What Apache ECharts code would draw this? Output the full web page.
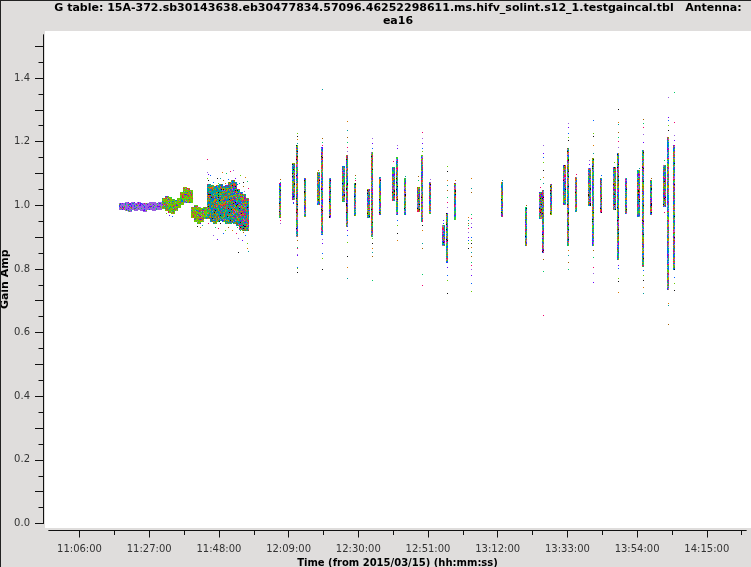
<!DOCTYPE html>
<html><head><meta charset="utf-8">
<script src="https://cdn.jsdelivr.net/npm/echarts@6/dist/echarts.min.js"></script>
<style>
html,body{margin:0;padding:0;background:#dfdddc;overflow:hidden}
#c{position:absolute;left:0;top:0;width:751px;height:567px}
#f{position:absolute;left:0;top:0;width:750px;height:566px;border-top:1px solid #222;border-left:1px solid #222;pointer-events:none}
</style></head><body><div id="c"></div><div id="f"></div>
<script>
// time axis is in minutes after midnight
const titleText = "G table: 15A-372.sb30143638.eb30477834.57096.46252298611.ms.hifv_solint.s12_1.testgaincal.tbl   Antenna:\nea16";
const xName = "Time (from 2015/03/15) (hh:mm:ss)";
const yName = "Gain Amp";
const xTickLabels = ["11:06:00","11:27:00","11:48:00","12:09:00","12:30:00","12:51:00","13:12:00","13:33:00","13:54:00","14:15:00"];
const xLongTicks = [666,687,708,729,750,771,792,813,834,855];
const xShortTicks = [676.5,697.5,718.5,739.5,760.5,781.5,802.5,823.5,844.5,865.5];
const yLabelTicks = [0,0.2,0.4,0.6,0.8,1.0,1.2,1.4];
const yLongTicks = [0,0.1,0.2,0.3,0.4,0.5,0.6,0.7,0.8,0.9,1.0,1.1,1.2,1.3,1.4,1.5];
const yShortTicks = [0.05,0.15,0.25,0.35,0.45,0.55,0.65,0.75,0.85,0.95,1.05,1.15,1.25,1.35,1.45];

// dense opening scans, column by column
const blockATime = [678.5,679.4,680.3,681.2,682.1,683.0,683.9,684.8,685.7,686.6,687.5,688.4,689.4,690.3,691.2];
const blockAHigh = [1.007,1.007,1.010,1.007,1.010,1.007,1.010,1.007,1.007,1.007,1.010,1.010,1.007,1.010,1.010];
const blockALow  = [.985,.985,.982,.979,.985,.982,.985,.982,.979,.985,.985,.982,.985,.985,.988];
const blockBTime = [691.5,692.4,693.3,694.2,695.1,696.0,696.9,697.8,698.7,699.6];
const blockBHigh = [1.023,1.029,1.026,1.020,1.017,1.023,1.042,1.057,1.054,1.048];
const blockBLow  = [.988,.982,.976,.973,.982,.992,1.001,1.007,1.007,1.007];
const blockCTime = [700.2,701.1,702.0,702.9,703.8];
const blockCHigh = [.995,1.001,.995,.992,.995];
const blockCLow  = [.960,.948,.941,.948,.957];
const blockDTime = [704.9,705.8,706.7,707.6,708.5,709.4,710.3,711.2,712.1];
const blockDHigh = [1.067,1.064,1.061,1.064,1.067,1.061,1.064,1.073,1.080];
const blockDLow  = [.957,.947,.941,.947,.950,.947,.941,.941,.944];
const blockETime = [713.0,713.9,714.8,715.7,716.4];
const blockEHigh = [1.073,1.051,1.042,1.036,1.023];
const blockELow  = [.941,.935,.922,.919,.919];
const blockStray = [[704.52,1.144],[704.52,1.106],[704.82,1.097],[705.32,1.095],[704.52,1.087],[704.82,1.079],[708.84,1.106],[708.34,1.087],[709.14,1.079],[710.14,1.100],[711.35,1.108],[712.35,1.111],[712.85,1.087],[710.85,1.083],[714.36,1.095],[715.37,1.074],[715.87,1.090],[714.16,1.069],[715.17,1.059],[716.37,1.076],[716.87,1.055],[715.57,1.045],[713.36,1.066],[706.33,1.074],[707.83,1.069],[707.33,1.085],[709.84,1.069],[705.32,.959],[705.82,.949],[706.83,.933],[707.83,.928],[706.33,.907],[707.33,.894],[709.34,.912],[709.84,.922],[708.34,.943],[711.85,.922],[712.35,.943],[710.85,.933],[713.36,.933],[713.16,.912],[713.86,.896],[714.86,.891],[715.87,.907],[716.57,.881],[713.86,.852],[716.37,.865],[716.87,.857],[715.17,.917],[714.36,.922],[704.82,.943],[704.32,.975],[693.1,.970],[694.0,.967],[692.2,.977],[701.5,.936],[702.4,.933],[703.0,.938]];

// later scans: one narrow strip per time
const stripTime = [726.41,730.42,731.44,733.85,737.95,739.06,741.47,745.39,746.51,748.92,753.01,754.04,756.54,760.55,761.57,764.07,768.08,769.19,771.60,775.61,776.64,779.14,793.21,800.53,804.75,805.74,808.06,812.07,813.09,815.59,819.60,820.72,823.13,827.13,828.25,830.66,834.57,835.69,838.10,842.20,843.31,845.21];
const stripHigh = [1.069,1.132,1.190,1.085,1.103,1.184,1.085,1.123,1.158,1.069,1.050,1.168,1.088,1.119,1.151,1.085,1.056,1.158,1.074,.938,.975,1.069,1.074,.994,1.043,1.048,1.067,1.127,1.179,1.088,1.116,1.148,1.085,1.121,1.163,1.085,1.111,1.174,1.079,1.127,1.216,1.189];
const stripLow  = [.959,1.017,.901,.964,.998,.907,.959,1.011,.933,.964,.959,.901,.970,1.011,.970,.970,.977,.949,.975,.873,.818,.954,.964,.870,.959,.849,.969,1.001,.870,.977,.996,.870,.975,.985,.828,.973,.964,.807,.970,.996,.734,.797];
const stripTips = [
 [1.082,1.074,.954,.943],[1.011,1.006],[1.226,1.218,1.207,1.197,.891,.870,.867,.847,.844,.807,.802,.791],[],
 [1.111],[1.365,1.210,1.200,1.190,.893,.880,.849,.833,.799],[],[],
 [1.264,1.235,1.216,1.200,1.184,1.172,.922,.907,.886,.842,.807,.770],[1.095,1.087,1.080],[],[1.210,1.195,1.179,.896,.880,.867,.854,.841,.764],
 [],[1.139],[1.188,1.179,.954,.938,.912,.891],[1.093],[1.092,1.080],[1.231,1.210,1.195,1.179,1.169,.938,.922,.880,.865,.783,.749],
 [1.083],[.953,.945],[1.123,1.109,1.079,1.064,1.048,1.027,1.011,.996,.807,.781,.765,.723],[1.080],
 [1.079],[1.001],[1.082,1.056],[1.189,1.163,1.153,1.137,1.111,1.090,1.069,.830,.793,.654],[],[],
 [1.258,1.245,1.226,1.214,1.205,.859,.844,.823,.799],[1.097],[1.142,1.130],[1.268,1.226,1.218,1.189,1.163,.859,.838,.807,.786,.758],[1.095],[1.137],
 [1.301,1.263,1.254,1.231,1.216,1.203,1.182,.812,.802,.772,.762,.728],[],[1.116],[1.270,1.260,1.247,1.224,1.200,.797,.781,.765,.744,.723],[1.085],[1.142,.980],
 [1.339,1.278,1.268,1.252,1.237,.694,.687,.626],[1.357,1.261,1.221,1.205,.776,.755,.734]];
// two sparse scans with no solid core
const sparseTimeA = 782.96;
const sparseValuesA = [.962,.954,.945,.937,.928,.917,.901,.891,.880,.867];
const sparseTimeB = 784.05;
const sparseValuesB = [1.085,1.053,1.043,.972,.959,.945,.933,.901,.891,.880,.870,.854,.839,.823,.812,.799,.780,.755,.731];

const palette = ["#9a60e0","#66cc00","#009c9c","#f00070","#0060ff","#d87800","#00cc66","#6a00ff","#111111","#a06000"];

// speckle textures (styling only)
function tile(weights){
  const w=61,h=53,c=document.createElement('canvas');c.width=w;c.height=h;
  const g=c.getContext('2d');const bag=[];
  weights.forEach((n,i)=>{for(let k=0;k<n;k++)bag.push(palette[i]);});
  let s=12345;
  for(let y=0;y<h;y++)for(let x=0;x<w;x++){
    s=(s*1103515245+12345)&0x7fffffff;
    g.fillStyle=bag[(s>>>9)%bag.length];g.fillRect(x,y,1,1);
  }
  return c;
}
const tiles={
  purple:tile([30,2,2,1,2,0,1,2,0,0]),
  green:tile([2,22,1,3,2,4,1,1,0,0]),
  mixed:tile([1,3,16,2,3,7,2,1,1,2]),
  mixedRight:tile([2,4,8,5,5,6,3,2,1,2]),
  strip:tile([4,5,3,3,5,4,4,2,1,2])
};

const bandRows=[];
function addBand(times,hi,lo,kind,width){times.forEach((t,i)=>bandRows.push([t,lo[i],hi[i],kind,width]));}
addBand(blockATime,blockAHigh,blockALow,'purple',4);
addBand(blockBTime,blockBHigh,blockBLow,'green',4);
addBand(blockCTime,blockCHigh,blockCLow,'green',4);
addBand(blockDTime,blockDHigh,blockDLow,'mixed',4);
addBand(blockETime,blockEHigh,blockELow,'mixedRight',4);
stripTime.forEach((t,i)=>{
  const pairedRight = i+1<stripTime.length && stripTime[i+1]-t<1.5;
  bandRows.push([t,stripLow[i],stripHigh[i],'strip',pairedRight?3:2]);
});

const pointRows=[];
blockStray.forEach(p=>pointRows.push([p[0],p[1]]));
stripTips.forEach((list,i)=>list.forEach(v=>pointRows.push([stripTime[i],v])));
sparseValuesA.forEach(v=>pointRows.push([sparseTimeA,v]));
sparseValuesB.forEach(v=>pointRows.push([sparseTimeB,v]));

const labelStyle={fontFamily:'DejaVu Sans',fontSize:10,color:'#333'};
const tickStyle={color:'#111',width:1};
const xMin=656.81,xMax=866.81,yMax=1.535;
function xAx(long){return {type:'value',min:xMin,max:xMax,position:'bottom',offset:6.5,
  axisLine:{show:true,onZero:false,lineStyle:{color:'#111',width:1}},
  splitLine:{show:false},
  axisTick:{show:true,length:long?7.5:5,lineStyle:tickStyle,customValues:long?xLongTicks:xShortTicks},
  axisLabel:long?{show:true,margin:14,...labelStyle,customValues:xLongTicks,formatter:(v)=>xTickLabels[xLongTicks.indexOf(v)]||''}:{show:false},
  name:long?xName:'',nameLocation:'middle',nameGap:28,
  nameTextStyle:{fontFamily:'DejaVu Sans',fontSize:10,fontWeight:'bold',color:'#000'}};}
function yAx(long){return {type:'value',min:0,max:yMax,position:'left',offset:6,
  axisLine:{show:true,onZero:false,lineStyle:{color:'#111',width:1}},
  splitLine:{show:false},
  axisTick:{show:true,length:long?8:4.5,lineStyle:tickStyle,customValues:long?yLongTicks:yShortTicks},
  axisLabel:long?{show:true,margin:13,...labelStyle,customValues:yLabelTicks,formatter:(v)=>v.toFixed(1)}:{show:false},
  name:long?yName:'',nameLocation:'middle',nameGap:32,nameMoveOverlap:false,
  nameTextStyle:{fontFamily:'DejaVu Sans',fontSize:11,fontWeight:'bold',color:'#000'}};}

const chart=echarts.init(document.getElementById('c'),null,{renderer:'canvas',width:751,height:567});
chart.setOption({
  animation:false,backgroundColor:'transparent',
  title:{text:titleText,left:393,top:-3,textAlign:'center',
    textStyle:{fontFamily:'DejaVu Sans',fontSize:11,fontWeight:'bold',color:'#000',lineHeight:13}},
  grid:{left:49,right:5,top:35,bottom:43.5,containLabel:false,outerBoundsMode:'none'},
  graphic:[{type:'rect',z:-1,silent:true,shape:{x:45,y:31,width:706,height:497},style:{fill:'#fff'}}],
  xAxis:[xAx(true),xAx(false)],
  yAxis:[yAx(true),yAx(false)],
  series:[
    {type:'custom',coordinateSystem:'cartesian2d',clip:false,silent:true,data:bandRows,encode:{x:0,y:[1,2]},
     renderItem:(p,api)=>{
       const a=api.coord([api.value(0),api.value(2)]);
       const b=api.coord([api.value(0),api.value(1)]);
       const row=bandRows[p.dataIndex];
       const w=row[4];
       return {type:'rect',shape:{x:Math.round(a[0]-w/2),y:Math.round(a[1]),width:w,height:Math.max(1,Math.round(b[1]-a[1]))},
         style:{fill:{image:tiles[row[3]],repeat:'repeat'}}};
     }},
    {type:'custom',coordinateSystem:'cartesian2d',clip:false,silent:true,data:pointRows,encode:{x:0,y:1},
     renderItem:(p,api)=>{
       const a=api.coord([api.value(0),api.value(1)]);
       return {type:'rect',shape:{x:Math.round(a[0]),y:Math.round(a[1]),width:1,height:1},
         style:{fill:palette[(p.dataIndex*7+3)%palette.length]}};
     }}
  ]
});
</script></body></html>
